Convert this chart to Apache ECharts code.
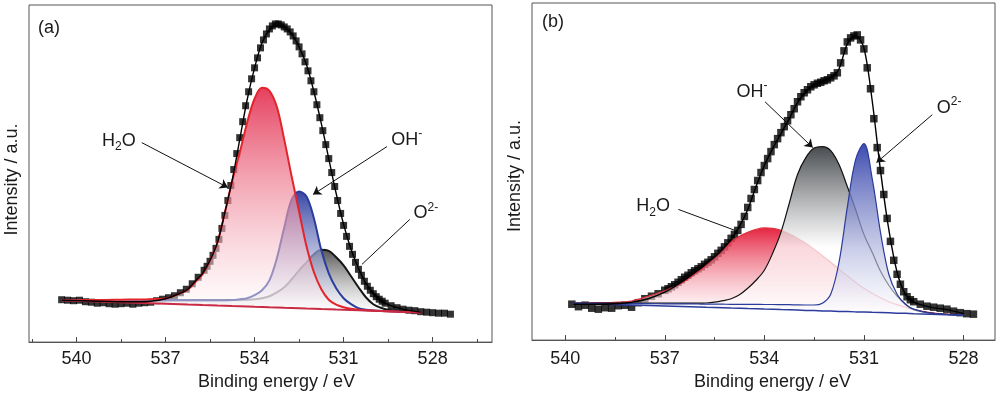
<!DOCTYPE html>
<html><head><meta charset="utf-8">
<script src="https://cdn.jsdelivr.net/npm/echarts@6/dist/echarts.min.js"></script>
<style>html,body{margin:0;padding:0;background:#fff}#c{width:1000px;height:396px}</style>
</head><body><div id="c"></div>
<script>
// ---------- tick labels ----------
const majorTicks = [540, 537, 534, 531, 528];
const minorTicksA = [541.5, 538.5, 535.5, 532.5, 529.5, 526.5];
const minorTicksB = [538.5, 535.5, 532.5, 529.5];

// ---------- panel (a): measured points ----------
const dataEnergyA = [540.5,540.3,540.1,539.9,539.7,539.5,539.3,539.1,538.9,538.7,538.5,538.3,538.1,537.9,537.7,537.5,537.3,537.1,536.9,536.7,536.5,536.3,536.1,535.9,535.7,
535.6,535.5,535.4,535.3,535.2,535.1,535.0,534.9,534.8,534.7,534.6,534.5,534.4,534.3,534.2,534.1,534.0,533.9,533.8,533.7,533.6,533.5,533.4,533.3,533.2,533.1,533.0,532.9,532.8,532.7,532.6,532.5,532.4,532.3,532.2,532.1,532.0,531.9,531.8,531.7,531.6,531.5,531.4,531.3,531.2,531.1,531.0,530.9,530.8,530.7,530.6,530.5,530.4,530.3,530.2,530.1,530.0,529.9,529.8,529.7,529.6,
529.4,529.2,529.0,528.8,528.6,528.4,528.2,528.0,527.8,527.6,527.4];
const dataIntensityA = [42.5,42,41.5,42,40.5,40,39,39.5,38.5,38,38.5,39,38,39,39.5,40,41.5,43,44.5,46.5,49.5,53,58.5,65,72,
76,81,87,94,103,114,127,142,157,173,189,205,221,237,251,264,275,285,295,303,309,314,317,319,319,318,316,314,311,307,302,296,289,281,272,262,251,238,225,212,198,184,170,156,142,129,117,106,96,88,80,73,67,61,56,52,48.5,45.5,43,41,39,
36.5,34.5,33,32,31.5,30.5,30,29.5,29,29,28];

// ---------- panel (a): fitted curves ----------
const fitEnergyA = [540.5,540,539.5,539,538.5,538,537.5,537,536.5,536.25,536,535.75,535.5,535.25,535,534.75,534.5,534.25,534,533.75,533.5,533.25,533,532.75,532.5,532.25,532,531.75,531.5,531.25,531,530.75,530.5,530.25,530,529.75,529.5,529,528.4];
const backgroundA = [42.0,41.5,41.0,40.5,40.0,39.5,39.0,38.5,38.0,37.7,37.5,37.2,37.0,36.7,36.5,36.2,36.0,35.7,35.4,35.2,34.9,34.7,34.4,34.2,33.9,33.6,33.4,33.1,32.9,32.6,32.4,32.1,31.9,31.6,31.4,31.1,30.9,30.3,29.7];
const h2oPeakA = [0,0.5,1.2,1.8,2.5,3.2,4,5.2,11,14.8,22.5,30.8,45,63.3,93.5,125.8,154,184.3,208.6,219.8,217.1,201.3,168.6,131.8,97.1,62.4,36.6,19.9,9.6,4.9,2.6,1.4,0.6,0.3,0.1,0,0,0,0];
const ohPeakA = [0,0.5,1,1.5,2,2.5,3,3.5,4,4.3,4.5,4.8,5,5.3,5.5,6,7,8.3,11.6,16.8,27,49.3,80.6,108.8,117,112.4,90.6,58.9,36.1,21.4,11.6,5.9,2.1,0.9,0.4,0.2,0,0,0];
const o2PeakA = [0,0.5,1,1.5,2,2.5,3,3.5,4,4.3,4.5,4.8,5,5.3,5.5,6,6.3,6.8,7.6,8.8,11.1,15.3,20.6,28.8,38.1,46.4,54.6,59.4,58.6,52.4,44.6,33.9,23.1,13.4,6.6,3.4,1.6,0.7,0];
const envelopeA = [42,41.6,41.2,40.8,40.5,40.5,41,43.5,49,53,61,69,82,100,130,163,203,243,275,300,313,318,316,309,296,278,251,219,184,149,118,93,74,59,49,42,37.5,33,30];

// ---------- panel (b): measured points ----------
const dataEnergyB = [539.8,539.6,539.4,539.2,539.0,538.8,538.6,538.4,538.2,538.0,537.8,537.6,537.4,537.2,
537.0,536.9,536.8,536.7,536.6,536.5,536.4,536.3,536.2,536.1,536.0,535.9,535.8,535.7,535.6,535.5,535.4,535.3,535.2,535.1,535.0,
534.9,534.8,534.7,534.6,534.5,534.4,534.3,534.2,534.1,534.0,533.9,533.8,533.7,533.6,533.5,533.4,533.3,533.2,533.1,533.0,
532.9,532.8,532.7,532.6,532.5,532.4,532.3,532.2,532.1,532.0,531.9,531.8,531.7,531.6,531.5,531.4,531.3,531.2,531.1,531.0,
530.9,530.8,530.7,530.6,530.5,530.4,530.3,530.2,530.1,530.0,529.9,529.8,529.7,529.6,529.5,
529.3,529.1,528.9,528.7,528.5,528.3,528.1,527.9,527.7];
const dataIntensityB = [36,33.5,35,32,31,32.5,32,34.5,35,33,37.5,41.5,44,46.5,
50,51.5,53.5,55.5,58,60.5,63,65,67.5,69.5,71.5,73.5,76,78,80.5,83.5,87,90,93.5,97.5,102,
106,110,116,124,133,142,151,160,168,175,182,189,196,202,208,214,220,226,232,239,
244,248,251,254,256,257.5,258.5,260,261,263,265,268,278,290,299,303,305,306,301,292,
273,252,222,193,170,146,122,99,80,66,56,48.5,43.5,40.5,38.5,
36,34,33,32,31,29,27.5,26.5,26];

// ---------- panel (b): fitted curves ----------
const fitEnergyB = [539.75,539.5,539,538.5,538,537.5,537,536.5,536,535.75,535.5,535.25,535,534.75,534.5,534.25,534,533.75,533.5,533.25,533,532.75,532.5,532.25,532,531.75,531.5,531.25,531,530.75,530.5,530.25,530,529.75,529.5,529,528.5,528];
const backgroundB = [37.0,36.7,36.2,35.7,35.2,34.7,34.2,33.7,33.2,32.9,32.7,32.4,32.1,31.9,31.6,31.4,31.1,30.9,30.6,30.4,30.1,29.8,29.6,29.3,29.1,28.8,28.6,28.3,28.1,27.8,27.6,27.3,27.0,26.8,26.5,26.0,25.5,25.0];
const h2oPeakB = [0,0.5,1.3,2.2,4,9.3,15.3,23.3,35.3,42.1,50.3,58.6,66.4,72.1,76.4,79.6,81.4,81.1,79.4,76.1,71.9,67.2,61.4,55.2,48.9,42.2,35.9,29.7,23.9,19.2,14.9,11.2,8.5,6.2,4,1.5,0.5,0];
const ohPeakB = [0,0.3,0.8,1.3,1.8,2.3,2.8,3.3,3.8,4.3,5.3,7.1,9.4,13.6,20.4,28.6,38.9,56.1,77.4,106.6,135.9,153.2,162.9,164.7,160.9,147.2,125.4,102.7,77.9,60.2,41.4,27.7,17,9.2,4,1,0.3,0];
const o2PeakB = [0,0.2,0.6,1,1.4,1.8,2.2,2.6,3,3.2,3.4,3.6,3.8,4,4.2,4.4,4.6,4.8,5,5.1,5.2,5.4,5.6,7.7,16.9,49.2,104.4,152.7,168.9,134.2,80.4,38.7,19,9.2,4.5,1,0.3,0];
const envelopeB = [36,36,36,36.5,38,41.5,48,58,70,76.5,83,91,101,114,131,154,175,192,207,222,238,249,256,259.5,263,272,297,305,293,240,170,111,68,46,38,33,30.5,26.5];

// ---------- helpers ----------
const F = "'Liberation Sans', Arial, Helvetica, sans-serif";
const TXT = '#1a1a1a';
function pairs(xs, ys) { return xs.map((x, i) => [x, ys[i]]); }
// intensity first so that ECharts stacks the intensity dimension
function pairsYX(xs, ys) { return xs.map((x, i) => [ys[i], x]); }
function grad(stops) {
  return new echarts.graphic.LinearGradient(0, 0, 0, 1, stops.map(s => ({offset: s[0], color: s[1]})));
}
const rich = {
  n: {fontSize: 18, fontFamily: F, color: TXT, lineHeight: 24, verticalAlign: 'middle'},
  s: {fontSize: 12, fontFamily: F, color: TXT, lineHeight: 12, verticalAlign: 'bottom'},
  p: {fontSize: 12, fontFamily: F, color: TXT, lineHeight: 12, verticalAlign: 'top'}
};

function xAxesFor(gridIndex, min, max, minors, nameGap, namePad, labelMargin) {
  return [{
    type: 'value', gridIndex, min, max, inverse: true, position: 'bottom',
    name: 'Binding energy / eV', nameLocation: 'middle', nameGap,
    nameTextStyle: {fontSize: 18, fontFamily: F, color: TXT, padding: [0, 0, 0, namePad]},
    axisLine: {show: true, lineStyle: {color: '#555', width: 1}},
    axisTick: {show: true, inside: true, length: 5, customValues: majorTicks, lineStyle: {color: '#444', width: 1}},
    axisLabel: {show: true, customValues: majorTicks, margin: labelMargin, fontSize: 18, fontFamily: F, color: TXT},
    splitLine: {show: false}
  }, {
    type: 'value', gridIndex, min, max, inverse: true, position: 'bottom',
    axisLine: {show: false},
    axisTick: {show: true, inside: true, length: 3, customValues: minors, lineStyle: {color: '#444', width: 1}},
    axisLabel: {show: false}, splitLine: {show: false}
  }];
}
function yAxisFor(gridIndex, shift) {
  return {
    type: 'value', gridIndex, min: 0, max: 338,
    name: 'Intensity / a.u.', nameLocation: 'middle', nameGap: 8, nameRotate: 90,
    nameTextStyle: {fontSize: 18, fontFamily: F, color: TXT, padding: [0, shift, 0, 0]},
    axisLine: {show: false}, axisTick: {show: false}, axisLabel: {show: false}, splitLine: {show: false}
  };
}
function scatter(xi, yi, xs, ys, size) {
  return {type: 'scatter', xAxisIndex: xi, yAxisIndex: yi, z: 2, symbol: 'rect', symbolSize: size,
    itemStyle: {color: '#000'}, data: pairs(xs, ys), silent: true};
}
function component(xi, yi, stackName, xs, bg, peak, color, width, fill, z) {
  return [
    {type: 'line', xAxisIndex: xi, yAxisIndex: yi, stack: stackName, z, symbol: 'none', silent: true,
      encode: {x: 1, y: 0}, lineStyle: {opacity: 0, width: 0}, data: pairsYX(xs, bg)},
    {type: 'line', xAxisIndex: xi, yAxisIndex: yi, stack: stackName, z, symbol: 'none', silent: true,
      encode: {x: 1, y: 0}, smooth: 0.35, lineStyle: {color, width},
      areaStyle: {color: fill, opacity: 1}, data: pairsYX(xs, peak)}
  ];
}
function plainLine(xi, yi, xs, ys, color, width, z, smooth) {
  return {type: 'line', xAxisIndex: xi, yAxisIndex: yi, z, symbol: 'none', silent: true, smooth,
    lineStyle: {color, width}, data: pairs(xs, ys)};
}
function markers(lines, labels) {
  return {
    markLine: {silent: true, z: 10, animation: false, symbol: ['none', 'arrow'], symbolSize: 8,
      label: {show: false}, lineStyle: {color: '#111', width: 1, type: 'solid'},
      emphasis: {disabled: true},
      data: lines.map(l => [{coord: l[0], symbol: 'none'}, {coord: l[1], symbol: l[2] ? 'arrow' : 'none'}])},
    markPoint: {silent: true, z: 10, animation: false, symbol: 'circle', symbolSize: 0,
      itemStyle: {color: 'transparent'},
      label: {show: true, position: 'inside', color: TXT, fontFamily: F, fontSize: 18, rich},
      data: labels.map(l => ({coord: l[0], label: {formatter: l[1]}}))}
  };
}

// ---------- panel (a) series ----------
const seriesA = [
  scatter(0, 0, dataEnergyA, dataIntensityA, 7),
  ...component(0, 0, 'a-o2', fitEnergyA, backgroundA, o2PeakA, '#161616', 2,
    grad([[0, 'rgba(70,70,70,0.92)'], [1, 'rgba(255,255,255,0.5)']]), 3),
  ...component(0, 0, 'a-oh', fitEnergyA, backgroundA, ohPeakA, '#2b3d9c', 2,
    grad([[0, 'rgba(45,60,160,0.95)'], [1, 'rgba(255,255,255,0.5)']]), 4),
  ...component(0, 0, 'a-h2o', fitEnergyA, backgroundA, h2oPeakA, '#e3242b', 2,
    grad([[0, 'rgba(226,38,72,0.88)'], [1, 'rgba(255,255,255,0.45)']]), 5),
  plainLine(0, 0, fitEnergyA, backgroundA, '#c92a44', 2, 6, false),
  Object.assign(plainLine(0, 0, fitEnergyA, envelopeA, '#000', 1.4, 7, 0.35), markers(
    [[[537.8, 200], [534.9, 155], true], [[529.54, 196], [532.03, 148], true], [[528.77, 123], [530.38, 78], false]],
    [[[538.57, 202], '{n|H}{s|2}{n|O}'], [[528.87, 203], '{n|OH}{p|-}'], [[528.23, 129], '{n|O}{p|2-}'], [[540.93, 315], '{n|(a)}']]
  ))
];

// ---------- panel (b) series ----------
const seriesB = [
  scatter(2, 1, dataEnergyB, dataIntensityB, 7.5),
  ...component(2, 1, 'b-h2o', fitEnergyB, backgroundB, h2oPeakB, '#e0303a', 1.2,
    grad([[0, 'rgba(228,25,55,0.95)'], [1, 'rgba(255,255,255,0.5)']]), 3),
  ...component(2, 1, 'b-oh', fitEnergyB, backgroundB, ohPeakB, '#111', 1.2,
    grad([[0, 'rgba(62,66,70,0.95)'], [0.6, 'rgba(255,255,255,0.75)'], [1, 'rgba(255,255,255,0.55)']]), 4),
  ...component(2, 1, 'b-o2', fitEnergyB, backgroundB, o2PeakB, '#2a3b9a', 1.2,
    grad([[0, 'rgba(50,65,170,0.95)'], [1, 'rgba(255,255,255,0.5)']]), 5),
  plainLine(2, 1, fitEnergyB, backgroundB, '#2b3c9c', 1.5, 6, false),
  Object.assign(plainLine(2, 1, fitEnergyB, envelopeB, '#000', 1.4, 7, 0.3), markers(
    [[[533.98, 239], [532.54, 193], true], [[536.59, 131], [534.88, 110], false], [[528.94, 226], [530.62, 178], true]],
    [[[534.37, 249], '{n|OH}{p|-}'], [[537.35, 134], '{n|H}{s|2}{n|O}'], [[528.43, 233], '{n|O}{p|2-}'], [[540.37, 319], '{n|(b)}']]
  ))
];

const chart = echarts.init(document.getElementById('c'), null, {renderer: 'canvas'});
chart.setOption({
  animation: false,
  backgroundColor: '#fff',
  grid: [
    {left: 29, right: 508, top: 5, bottom: 53, show: true, borderColor: '#555', borderWidth: 1, containLabel: false},
    {left: 532, right: 5, top: 3, bottom: 55, show: true, borderColor: '#555', borderWidth: 1, containLabel: false}
  ],
  xAxis: [
    ...xAxesFor(0, 526.0, 541.6, minorTicksA, 27, 32, 8),
    ...xAxesFor(1, 527.05, 541.0, minorTicksB, 30, 18, 10)
  ],
  yAxis: [yAxisFor(0, 12), yAxisFor(1, 9)],
  series: [...seriesA, ...seriesB]
});
</script></body></html>
